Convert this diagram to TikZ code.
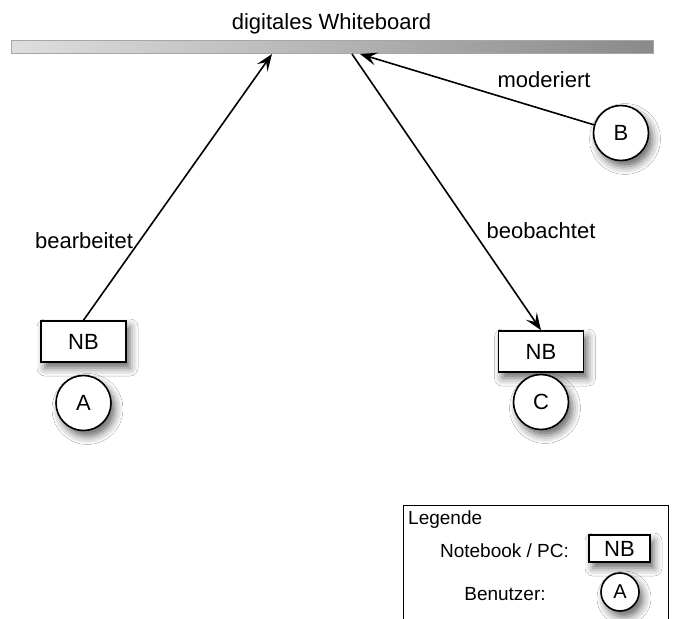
\documentclass[tikz,border=0pt]{standalone}
\usepackage{fontspec}
\setmainfont{Liberation Sans}
\usetikzlibrary{arrows.meta,shadows.blur}
\definecolor{boardL}{HTML}{DEDEDE}
\definecolor{boardR}{HTML}{8A8A8A}
\tikzset{
  big/.style={font=\fontsize{22}{26}\selectfont},
  small/.style={font=\fontsize{19}{23}\selectfont},
  lbl/.style={big, inner sep=0pt},
  sdw/.style={blur shadow={shadow xshift=4pt, shadow yshift=-6pt, shadow blur radius=8pt, shadow opacity=60}},
  nbbox/.style={draw, fill=white, line width=1.6pt, minimum width=85pt, minimum height=41pt, inner sep=0pt, big, sdw},
  user/.style={circle, draw, fill=white, line width=1.6pt, minimum size=55pt, inner sep=0pt, big, sdw},
  conn/.style={line width=1.6pt, -{Stealth[length=17pt, width=13pt, inset=7pt]}},
  board/.style={draw=gray!70, line width=0.8pt, left color=boardL, right color=boardR, minimum width=642pt, minimum height=13pt, inner sep=0pt}
}
\begin{document}
\begin{tikzpicture}[x=1pt,y=-1pt]
\useasboundingbox (0,0) rectangle (678,619);
\clip (0,0) rectangle (678,619);
\fill[white] (0,0) rectangle (678,619);

% whiteboard
\node[lbl, anchor=base] (title) at (331.5,29) {digitales Whiteboard};
\node[board] (wb) at (332,46.5) {};
\coordinate (wA) at (272,54);
\coordinate (wB) at (360,54);
\coordinate (wC) at (352,54);

% user A
\node[nbbox] (nbA) at (83.5,341.5) {NB};
\node[user] (A) at (83.5,403) {A};
% user C
\node[nbbox] (nbC) at (541,351.5) {NB};
\node[user] (C) at (541,402) {C};
% user B
\node[user] (B) at (621,133) {B};

% connectors
\draw[conn] (nbA.north) -- (wA);
\draw[conn] (B) -- (wB);
\draw[conn] (wC) -- (nbC.north);

% labels
\node[lbl, anchor=base] (lA) at (84,248) {bearbeitet};
\node[lbl, anchor=base] (lC) at (541,238) {beobachtet};
\node[lbl, anchor=base] (lB) at (544,87) {moderiert};

% legend
\node[draw, line width=1.2pt, fill=white, anchor=north west, minimum width=265pt, minimum height=140pt, inner sep=0pt] (leg) at (403,505) {};
\node[small, inner sep=0pt, anchor=base west] (legT) at (408,524) {Legende};
\node[small, inner sep=0pt, anchor=base] (legNBt) at (504.5,557) {Notebook / PC:};
\node[small, inner sep=0pt, anchor=base] (legUt) at (505,600) {Benutzer:};
\node[draw, fill=white, line width=1.6pt, minimum width=61pt, minimum height=27pt, inner sep=0pt, big, sdw] (legNB) at (619.5,548.5) {NB};
\node[circle, draw, fill=white, line width=1.6pt, minimum size=38pt, inner sep=0pt, font=\fontsize{20}{24}\selectfont, sdw] (legU) at (620,592) {A};
\end{tikzpicture}
\end{document}
